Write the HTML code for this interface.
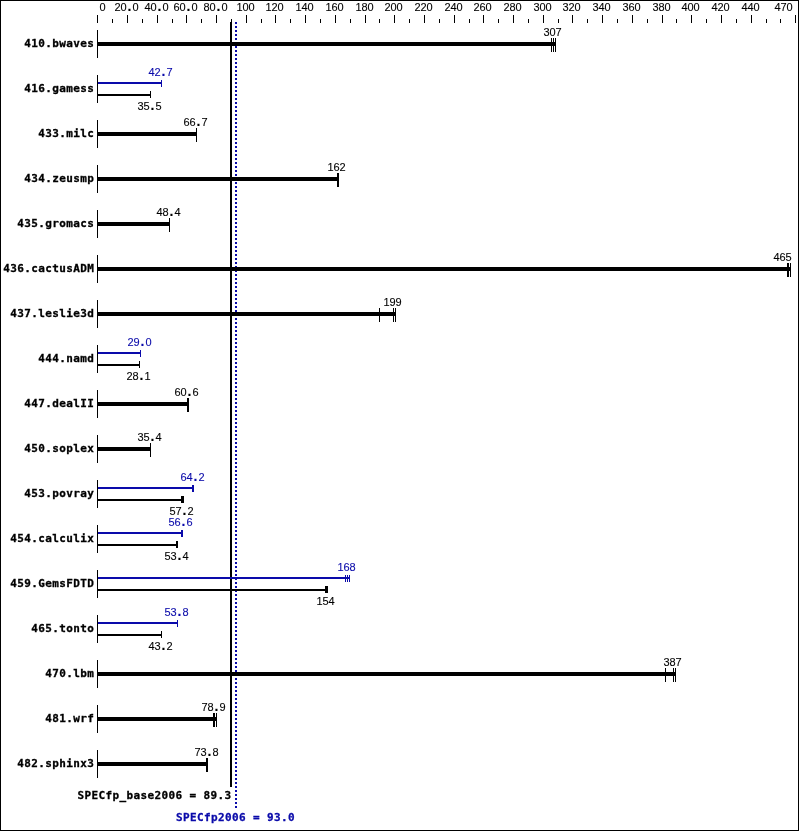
<!DOCTYPE html>
<html><head><meta charset="utf-8"><title>SPECfp2006</title>
<style>
html,body{margin:0;padding:0;background:#fff;}
svg{display:block;}
.s{font-family:"Liberation Sans","DejaVu Sans",sans-serif;font-size:11px;}
.b{font-family:"DejaVu Sans Mono","Liberation Mono",monospace;font-size:11px;font-weight:bold;letter-spacing:0.378px;}
.k{fill:#000;}
.p{fill:#0a0aaa;}
text.k{stroke:#000;}
text.p{stroke:#0a0aaa;}
.s{stroke-width:0.1;}
.b{stroke-width:0.3;}
.d{font-weight:bold;font-size:14px;}
</style></head><body>
<svg width="799" height="831" viewBox="0 0 799 831">
<rect x="0" y="0" width="799" height="831" fill="#fff"/>
<g shape-rendering="crispEdges">
<rect class="k" x="0" y="0" width="799" height="1"/><rect class="k" x="0" y="830" width="799" height="1"/><rect class="k" x="0" y="0" width="1" height="831"/><rect class="k" x="798" y="0" width="1" height="831"/>
<rect class="k" x="97" y="15" width="1" height="8"/>
<rect class="k" x="112" y="19" width="1" height="4"/>
<rect class="k" x="127" y="15" width="1" height="8"/>
<rect class="k" x="142" y="19" width="1" height="4"/>
<rect class="k" x="157" y="15" width="1" height="8"/>
<rect class="k" x="172" y="19" width="1" height="4"/>
<rect class="k" x="186" y="15" width="1" height="8"/>
<rect class="k" x="201" y="19" width="1" height="4"/>
<rect class="k" x="216" y="15" width="1" height="8"/>
<rect class="k" x="231" y="19" width="1" height="4"/>
<rect class="k" x="246" y="15" width="1" height="8"/>
<rect class="k" x="261" y="19" width="1" height="4"/>
<rect class="k" x="275" y="15" width="1" height="8"/>
<rect class="k" x="290" y="19" width="1" height="4"/>
<rect class="k" x="305" y="15" width="1" height="8"/>
<rect class="k" x="320" y="19" width="1" height="4"/>
<rect class="k" x="335" y="15" width="1" height="8"/>
<rect class="k" x="350" y="19" width="1" height="4"/>
<rect class="k" x="365" y="15" width="1" height="8"/>
<rect class="k" x="379" y="19" width="1" height="4"/>
<rect class="k" x="394" y="15" width="1" height="8"/>
<rect class="k" x="409" y="19" width="1" height="4"/>
<rect class="k" x="424" y="15" width="1" height="8"/>
<rect class="k" x="439" y="19" width="1" height="4"/>
<rect class="k" x="454" y="15" width="1" height="8"/>
<rect class="k" x="469" y="19" width="1" height="4"/>
<rect class="k" x="483" y="15" width="1" height="8"/>
<rect class="k" x="498" y="19" width="1" height="4"/>
<rect class="k" x="513" y="15" width="1" height="8"/>
<rect class="k" x="528" y="19" width="1" height="4"/>
<rect class="k" x="543" y="15" width="1" height="8"/>
<rect class="k" x="558" y="19" width="1" height="4"/>
<rect class="k" x="572" y="15" width="1" height="8"/>
<rect class="k" x="587" y="19" width="1" height="4"/>
<rect class="k" x="602" y="15" width="1" height="8"/>
<rect class="k" x="617" y="19" width="1" height="4"/>
<rect class="k" x="632" y="15" width="1" height="8"/>
<rect class="k" x="647" y="19" width="1" height="4"/>
<rect class="k" x="662" y="15" width="1" height="8"/>
<rect class="k" x="676" y="19" width="1" height="4"/>
<rect class="k" x="691" y="15" width="1" height="8"/>
<rect class="k" x="706" y="19" width="1" height="4"/>
<rect class="k" x="721" y="15" width="1" height="8"/>
<rect class="k" x="736" y="19" width="1" height="4"/>
<rect class="k" x="751" y="15" width="1" height="8"/>
<rect class="k" x="766" y="19" width="1" height="4"/>
<rect class="k" x="780" y="19" width="1" height="4"/>
<rect class="k" x="795" y="15" width="1" height="8"/>
<rect class="k" x="230" y="22" width="2" height="765"/>
<rect class="p" x="235" y="22" width="2" height="2"/>
<rect class="p" x="235" y="26" width="2" height="2"/>
<rect class="p" x="235" y="30" width="2" height="2"/>
<rect class="p" x="235" y="34" width="2" height="2"/>
<rect class="p" x="235" y="38" width="2" height="2"/>
<rect class="p" x="235" y="42" width="2" height="2"/>
<rect class="p" x="235" y="46" width="2" height="2"/>
<rect class="p" x="235" y="50" width="2" height="2"/>
<rect class="p" x="235" y="54" width="2" height="2"/>
<rect class="p" x="235" y="58" width="2" height="2"/>
<rect class="p" x="235" y="62" width="2" height="2"/>
<rect class="p" x="235" y="66" width="2" height="2"/>
<rect class="p" x="235" y="70" width="2" height="2"/>
<rect class="p" x="235" y="74" width="2" height="2"/>
<rect class="p" x="235" y="78" width="2" height="2"/>
<rect class="p" x="235" y="82" width="2" height="2"/>
<rect class="p" x="235" y="86" width="2" height="2"/>
<rect class="p" x="235" y="90" width="2" height="2"/>
<rect class="p" x="235" y="94" width="2" height="2"/>
<rect class="p" x="235" y="98" width="2" height="2"/>
<rect class="p" x="235" y="102" width="2" height="2"/>
<rect class="p" x="235" y="106" width="2" height="2"/>
<rect class="p" x="235" y="110" width="2" height="2"/>
<rect class="p" x="235" y="114" width="2" height="2"/>
<rect class="p" x="235" y="118" width="2" height="2"/>
<rect class="p" x="235" y="122" width="2" height="2"/>
<rect class="p" x="235" y="126" width="2" height="2"/>
<rect class="p" x="235" y="130" width="2" height="2"/>
<rect class="p" x="235" y="134" width="2" height="2"/>
<rect class="p" x="235" y="138" width="2" height="2"/>
<rect class="p" x="235" y="142" width="2" height="2"/>
<rect class="p" x="235" y="146" width="2" height="2"/>
<rect class="p" x="235" y="150" width="2" height="2"/>
<rect class="p" x="235" y="154" width="2" height="2"/>
<rect class="p" x="235" y="158" width="2" height="2"/>
<rect class="p" x="235" y="162" width="2" height="2"/>
<rect class="p" x="235" y="166" width="2" height="2"/>
<rect class="p" x="235" y="170" width="2" height="2"/>
<rect class="p" x="235" y="174" width="2" height="2"/>
<rect class="p" x="235" y="178" width="2" height="2"/>
<rect class="p" x="235" y="182" width="2" height="2"/>
<rect class="p" x="235" y="186" width="2" height="2"/>
<rect class="p" x="235" y="190" width="2" height="2"/>
<rect class="p" x="235" y="194" width="2" height="2"/>
<rect class="p" x="235" y="198" width="2" height="2"/>
<rect class="p" x="235" y="202" width="2" height="2"/>
<rect class="p" x="235" y="206" width="2" height="2"/>
<rect class="p" x="235" y="210" width="2" height="2"/>
<rect class="p" x="235" y="214" width="2" height="2"/>
<rect class="p" x="235" y="218" width="2" height="2"/>
<rect class="p" x="235" y="222" width="2" height="2"/>
<rect class="p" x="235" y="226" width="2" height="2"/>
<rect class="p" x="235" y="230" width="2" height="2"/>
<rect class="p" x="235" y="234" width="2" height="2"/>
<rect class="p" x="235" y="238" width="2" height="2"/>
<rect class="p" x="235" y="242" width="2" height="2"/>
<rect class="p" x="235" y="246" width="2" height="2"/>
<rect class="p" x="235" y="250" width="2" height="2"/>
<rect class="p" x="235" y="254" width="2" height="2"/>
<rect class="p" x="235" y="258" width="2" height="2"/>
<rect class="p" x="235" y="262" width="2" height="2"/>
<rect class="p" x="235" y="266" width="2" height="2"/>
<rect class="p" x="235" y="270" width="2" height="2"/>
<rect class="p" x="235" y="274" width="2" height="2"/>
<rect class="p" x="235" y="278" width="2" height="2"/>
<rect class="p" x="235" y="282" width="2" height="2"/>
<rect class="p" x="235" y="286" width="2" height="2"/>
<rect class="p" x="235" y="290" width="2" height="2"/>
<rect class="p" x="235" y="294" width="2" height="2"/>
<rect class="p" x="235" y="298" width="2" height="2"/>
<rect class="p" x="235" y="302" width="2" height="2"/>
<rect class="p" x="235" y="306" width="2" height="2"/>
<rect class="p" x="235" y="310" width="2" height="2"/>
<rect class="p" x="235" y="314" width="2" height="2"/>
<rect class="p" x="235" y="318" width="2" height="2"/>
<rect class="p" x="235" y="322" width="2" height="2"/>
<rect class="p" x="235" y="326" width="2" height="2"/>
<rect class="p" x="235" y="330" width="2" height="2"/>
<rect class="p" x="235" y="334" width="2" height="2"/>
<rect class="p" x="235" y="338" width="2" height="2"/>
<rect class="p" x="235" y="342" width="2" height="2"/>
<rect class="p" x="235" y="346" width="2" height="2"/>
<rect class="p" x="235" y="350" width="2" height="2"/>
<rect class="p" x="235" y="354" width="2" height="2"/>
<rect class="p" x="235" y="358" width="2" height="2"/>
<rect class="p" x="235" y="362" width="2" height="2"/>
<rect class="p" x="235" y="366" width="2" height="2"/>
<rect class="p" x="235" y="370" width="2" height="2"/>
<rect class="p" x="235" y="374" width="2" height="2"/>
<rect class="p" x="235" y="378" width="2" height="2"/>
<rect class="p" x="235" y="382" width="2" height="2"/>
<rect class="p" x="235" y="386" width="2" height="2"/>
<rect class="p" x="235" y="390" width="2" height="2"/>
<rect class="p" x="235" y="394" width="2" height="2"/>
<rect class="p" x="235" y="398" width="2" height="2"/>
<rect class="p" x="235" y="402" width="2" height="2"/>
<rect class="p" x="235" y="406" width="2" height="2"/>
<rect class="p" x="235" y="410" width="2" height="2"/>
<rect class="p" x="235" y="414" width="2" height="2"/>
<rect class="p" x="235" y="418" width="2" height="2"/>
<rect class="p" x="235" y="422" width="2" height="2"/>
<rect class="p" x="235" y="426" width="2" height="2"/>
<rect class="p" x="235" y="430" width="2" height="2"/>
<rect class="p" x="235" y="434" width="2" height="2"/>
<rect class="p" x="235" y="438" width="2" height="2"/>
<rect class="p" x="235" y="442" width="2" height="2"/>
<rect class="p" x="235" y="446" width="2" height="2"/>
<rect class="p" x="235" y="450" width="2" height="2"/>
<rect class="p" x="235" y="454" width="2" height="2"/>
<rect class="p" x="235" y="458" width="2" height="2"/>
<rect class="p" x="235" y="462" width="2" height="2"/>
<rect class="p" x="235" y="466" width="2" height="2"/>
<rect class="p" x="235" y="470" width="2" height="2"/>
<rect class="p" x="235" y="474" width="2" height="2"/>
<rect class="p" x="235" y="478" width="2" height="2"/>
<rect class="p" x="235" y="482" width="2" height="2"/>
<rect class="p" x="235" y="486" width="2" height="2"/>
<rect class="p" x="235" y="490" width="2" height="2"/>
<rect class="p" x="235" y="494" width="2" height="2"/>
<rect class="p" x="235" y="498" width="2" height="2"/>
<rect class="p" x="235" y="502" width="2" height="2"/>
<rect class="p" x="235" y="506" width="2" height="2"/>
<rect class="p" x="235" y="510" width="2" height="2"/>
<rect class="p" x="235" y="514" width="2" height="2"/>
<rect class="p" x="235" y="518" width="2" height="2"/>
<rect class="p" x="235" y="522" width="2" height="2"/>
<rect class="p" x="235" y="526" width="2" height="2"/>
<rect class="p" x="235" y="530" width="2" height="2"/>
<rect class="p" x="235" y="534" width="2" height="2"/>
<rect class="p" x="235" y="538" width="2" height="2"/>
<rect class="p" x="235" y="542" width="2" height="2"/>
<rect class="p" x="235" y="546" width="2" height="2"/>
<rect class="p" x="235" y="550" width="2" height="2"/>
<rect class="p" x="235" y="554" width="2" height="2"/>
<rect class="p" x="235" y="558" width="2" height="2"/>
<rect class="p" x="235" y="562" width="2" height="2"/>
<rect class="p" x="235" y="566" width="2" height="2"/>
<rect class="p" x="235" y="570" width="2" height="2"/>
<rect class="p" x="235" y="574" width="2" height="2"/>
<rect class="p" x="235" y="578" width="2" height="2"/>
<rect class="p" x="235" y="582" width="2" height="2"/>
<rect class="p" x="235" y="586" width="2" height="2"/>
<rect class="p" x="235" y="590" width="2" height="2"/>
<rect class="p" x="235" y="594" width="2" height="2"/>
<rect class="p" x="235" y="598" width="2" height="2"/>
<rect class="p" x="235" y="602" width="2" height="2"/>
<rect class="p" x="235" y="606" width="2" height="2"/>
<rect class="p" x="235" y="610" width="2" height="2"/>
<rect class="p" x="235" y="614" width="2" height="2"/>
<rect class="p" x="235" y="618" width="2" height="2"/>
<rect class="p" x="235" y="622" width="2" height="2"/>
<rect class="p" x="235" y="626" width="2" height="2"/>
<rect class="p" x="235" y="630" width="2" height="2"/>
<rect class="p" x="235" y="634" width="2" height="2"/>
<rect class="p" x="235" y="638" width="2" height="2"/>
<rect class="p" x="235" y="642" width="2" height="2"/>
<rect class="p" x="235" y="646" width="2" height="2"/>
<rect class="p" x="235" y="650" width="2" height="2"/>
<rect class="p" x="235" y="654" width="2" height="2"/>
<rect class="p" x="235" y="658" width="2" height="2"/>
<rect class="p" x="235" y="662" width="2" height="2"/>
<rect class="p" x="235" y="666" width="2" height="2"/>
<rect class="p" x="235" y="670" width="2" height="2"/>
<rect class="p" x="235" y="674" width="2" height="2"/>
<rect class="p" x="235" y="678" width="2" height="2"/>
<rect class="p" x="235" y="682" width="2" height="2"/>
<rect class="p" x="235" y="686" width="2" height="2"/>
<rect class="p" x="235" y="690" width="2" height="2"/>
<rect class="p" x="235" y="694" width="2" height="2"/>
<rect class="p" x="235" y="698" width="2" height="2"/>
<rect class="p" x="235" y="702" width="2" height="2"/>
<rect class="p" x="235" y="706" width="2" height="2"/>
<rect class="p" x="235" y="710" width="2" height="2"/>
<rect class="p" x="235" y="714" width="2" height="2"/>
<rect class="p" x="235" y="718" width="2" height="2"/>
<rect class="p" x="235" y="722" width="2" height="2"/>
<rect class="p" x="235" y="726" width="2" height="2"/>
<rect class="p" x="235" y="730" width="2" height="2"/>
<rect class="p" x="235" y="734" width="2" height="2"/>
<rect class="p" x="235" y="738" width="2" height="2"/>
<rect class="p" x="235" y="742" width="2" height="2"/>
<rect class="p" x="235" y="746" width="2" height="2"/>
<rect class="p" x="235" y="750" width="2" height="2"/>
<rect class="p" x="235" y="754" width="2" height="2"/>
<rect class="p" x="235" y="758" width="2" height="2"/>
<rect class="p" x="235" y="762" width="2" height="2"/>
<rect class="p" x="235" y="766" width="2" height="2"/>
<rect class="p" x="235" y="770" width="2" height="2"/>
<rect class="p" x="235" y="774" width="2" height="2"/>
<rect class="p" x="235" y="778" width="2" height="2"/>
<rect class="p" x="235" y="782" width="2" height="2"/>
<rect class="p" x="235" y="786" width="2" height="2"/>
<rect class="p" x="235" y="790" width="2" height="2"/>
<rect class="p" x="235" y="794" width="2" height="2"/>
<rect class="p" x="235" y="798" width="2" height="2"/>
<rect class="p" x="235" y="802" width="2" height="2"/>
<rect class="p" x="235" y="806" width="2" height="2"/>
<rect class="k" x="97" y="30" width="1" height="28"/>
<rect class="k" x="98" y="42" width="458" height="4"/>
<rect class="k" x="551" y="38" width="1" height="14"/>
<rect class="k" x="553" y="38" width="1" height="14"/>
<rect class="k" x="555" y="38" width="1" height="14"/>
<rect class="k" x="97" y="75" width="1" height="28"/>
<rect class="p" x="98" y="82" width="64" height="2"/>
<rect class="p" x="161" y="80" width="1" height="7"/>
<rect class="k" x="98" y="94" width="53" height="2"/>
<rect class="k" x="150" y="91" width="1" height="7"/>
<rect class="k" x="97" y="120" width="1" height="28"/>
<rect class="k" x="98" y="132" width="99" height="4"/>
<rect class="k" x="196" y="128" width="1" height="14"/>
<rect class="k" x="97" y="165" width="1" height="28"/>
<rect class="k" x="98" y="177" width="241" height="4"/>
<rect class="k" x="337" y="173" width="1" height="14"/>
<rect class="k" x="338" y="173" width="1" height="14"/>
<rect class="k" x="97" y="210" width="1" height="28"/>
<rect class="k" x="98" y="222" width="72" height="4"/>
<rect class="k" x="169" y="218" width="1" height="14"/>
<rect class="k" x="97" y="255" width="1" height="28"/>
<rect class="k" x="98" y="267" width="693" height="4"/>
<rect class="k" x="787" y="263" width="1" height="14"/>
<rect class="k" x="788" y="263" width="1" height="14"/>
<rect class="k" x="790" y="263" width="1" height="14"/>
<rect class="k" x="97" y="300" width="1" height="28"/>
<rect class="k" x="98" y="312" width="298" height="4"/>
<rect class="k" x="379" y="308" width="1" height="14"/>
<rect class="k" x="393" y="308" width="1" height="14"/>
<rect class="k" x="395" y="308" width="1" height="14"/>
<rect class="k" x="97" y="345" width="1" height="28"/>
<rect class="p" x="98" y="352" width="43" height="2"/>
<rect class="p" x="140" y="350" width="1" height="7"/>
<rect class="k" x="98" y="364" width="42" height="2"/>
<rect class="k" x="139" y="361" width="1" height="7"/>
<rect class="k" x="97" y="390" width="1" height="28"/>
<rect class="k" x="98" y="402" width="91" height="4"/>
<rect class="k" x="187" y="398" width="1" height="14"/>
<rect class="k" x="188" y="398" width="1" height="14"/>
<rect class="k" x="97" y="435" width="1" height="28"/>
<rect class="k" x="98" y="447" width="53" height="4"/>
<rect class="k" x="150" y="443" width="1" height="14"/>
<rect class="k" x="97" y="480" width="1" height="28"/>
<rect class="p" x="98" y="487" width="96" height="2"/>
<rect class="p" x="192" y="485" width="1" height="7"/>
<rect class="p" x="193" y="485" width="1" height="7"/>
<rect class="k" x="98" y="499" width="86" height="2"/>
<rect class="k" x="181" y="496" width="1" height="7"/>
<rect class="k" x="182" y="496" width="1" height="7"/>
<rect class="k" x="183" y="496" width="1" height="7"/>
<rect class="k" x="97" y="525" width="1" height="28"/>
<rect class="p" x="98" y="532" width="85" height="2"/>
<rect class="p" x="181" y="530" width="1" height="7"/>
<rect class="p" x="182" y="530" width="1" height="7"/>
<rect class="k" x="98" y="544" width="80" height="2"/>
<rect class="k" x="176" y="541" width="1" height="7"/>
<rect class="k" x="177" y="541" width="1" height="7"/>
<rect class="k" x="97" y="570" width="1" height="28"/>
<rect class="p" x="98" y="577" width="252" height="2"/>
<rect class="p" x="345" y="575" width="1" height="7"/>
<rect class="p" x="347" y="575" width="1" height="7"/>
<rect class="p" x="349" y="575" width="1" height="7"/>
<rect class="k" x="98" y="589" width="230" height="2"/>
<rect class="k" x="325" y="586" width="1" height="7"/>
<rect class="k" x="326" y="586" width="1" height="7"/>
<rect class="k" x="327" y="586" width="1" height="7"/>
<rect class="k" x="97" y="615" width="1" height="28"/>
<rect class="p" x="98" y="622" width="80" height="2"/>
<rect class="p" x="177" y="620" width="1" height="7"/>
<rect class="k" x="98" y="634" width="64" height="2"/>
<rect class="k" x="161" y="631" width="1" height="7"/>
<rect class="k" x="97" y="660" width="1" height="28"/>
<rect class="k" x="98" y="672" width="578" height="4"/>
<rect class="k" x="665" y="668" width="1" height="14"/>
<rect class="k" x="673" y="668" width="1" height="14"/>
<rect class="k" x="675" y="668" width="1" height="14"/>
<rect class="k" x="97" y="705" width="1" height="28"/>
<rect class="k" x="98" y="717" width="119" height="4"/>
<rect class="k" x="213" y="713" width="1" height="14"/>
<rect class="k" x="214" y="713" width="1" height="14"/>
<rect class="k" x="216" y="713" width="1" height="14"/>
<rect class="k" x="97" y="750" width="1" height="28"/>
<rect class="k" x="98" y="762" width="110" height="4"/>
<rect class="k" x="206" y="758" width="1" height="14"/>
<rect class="k" x="207" y="758" width="1" height="14"/>
</g>
<text class="s k" text-anchor="middle" x="102.5" y="11">0</text>
<text class="s k" text-anchor="middle" x="117.5 123.5 129.5 135.5" y="11">20<tspan class="d">.</tspan>0</text>
<text class="s k" text-anchor="middle" x="147.5 153.5 159.5 165.5" y="11">40<tspan class="d">.</tspan>0</text>
<text class="s k" text-anchor="middle" x="176.5 182.5 188.5 194.5" y="11">60<tspan class="d">.</tspan>0</text>
<text class="s k" text-anchor="middle" x="206.5 212.5 218.5 224.5" y="11">80<tspan class="d">.</tspan>0</text>
<text class="s k" text-anchor="middle" x="239.5 245.5 251.5" y="11">100</text>
<text class="s k" text-anchor="middle" x="268.5 274.5 280.5" y="11">120</text>
<text class="s k" text-anchor="middle" x="298.5 304.5 310.5" y="11">140</text>
<text class="s k" text-anchor="middle" x="328.5 334.5 340.5" y="11">160</text>
<text class="s k" text-anchor="middle" x="358.5 364.5 370.5" y="11">180</text>
<text class="s k" text-anchor="middle" x="387.5 393.5 399.5" y="11">200</text>
<text class="s k" text-anchor="middle" x="417.5 423.5 429.5" y="11">220</text>
<text class="s k" text-anchor="middle" x="447.5 453.5 459.5" y="11">240</text>
<text class="s k" text-anchor="middle" x="476.5 482.5 488.5" y="11">260</text>
<text class="s k" text-anchor="middle" x="506.5 512.5 518.5" y="11">280</text>
<text class="s k" text-anchor="middle" x="536.5 542.5 548.5" y="11">300</text>
<text class="s k" text-anchor="middle" x="565.5 571.5 577.5" y="11">320</text>
<text class="s k" text-anchor="middle" x="595.5 601.5 607.5" y="11">340</text>
<text class="s k" text-anchor="middle" x="625.5 631.5 637.5" y="11">360</text>
<text class="s k" text-anchor="middle" x="655.5 661.5 667.5" y="11">380</text>
<text class="s k" text-anchor="middle" x="684.5 690.5 696.5" y="11">400</text>
<text class="s k" text-anchor="middle" x="714.5 720.5 726.5" y="11">420</text>
<text class="s k" text-anchor="middle" x="744.5 750.5 756.5" y="11">440</text>
<text class="s k" text-anchor="middle" x="777.5 783.5 789.5" y="11">470</text>
<text class="b k" text-anchor="end" x="94.2" y="47">410.bwaves</text>
<text class="s k" text-anchor="middle" x="546.5 552.5 558.5" y="36">307</text>
<text class="b k" text-anchor="end" x="94.2" y="92">416.gamess</text>
<text class="s p" text-anchor="middle" x="151.5 157.5 163.5 169.5" y="76">42<tspan class="d">.</tspan>7</text>
<text class="s k" text-anchor="middle" x="140.5 146.5 152.5 158.5" y="110">35<tspan class="d">.</tspan>5</text>
<text class="b k" text-anchor="end" x="94.2" y="137">433.milc</text>
<text class="s k" text-anchor="middle" x="186.5 192.5 198.5 204.5" y="126">66<tspan class="d">.</tspan>7</text>
<text class="b k" text-anchor="end" x="94.2" y="182">434.zeusmp</text>
<text class="s k" text-anchor="middle" x="330.5 336.5 342.5" y="171">162</text>
<text class="b k" text-anchor="end" x="94.2" y="227">435.gromacs</text>
<text class="s k" text-anchor="middle" x="159.5 165.5 171.5 177.5" y="216">48<tspan class="d">.</tspan>4</text>
<text class="b k" text-anchor="end" x="94.2" y="272">436.cactusADM</text>
<text class="s k" text-anchor="middle" x="776.5 782.5 788.5" y="261">465</text>
<text class="b k" text-anchor="end" x="94.2" y="317">437.leslie3d</text>
<text class="s k" text-anchor="middle" x="386.5 392.5 398.5" y="306">199</text>
<text class="b k" text-anchor="end" x="94.2" y="362">444.namd</text>
<text class="s p" text-anchor="middle" x="130.5 136.5 142.5 148.5" y="346">29<tspan class="d">.</tspan>0</text>
<text class="s k" text-anchor="middle" x="129.5 135.5 141.5 147.5" y="380">28<tspan class="d">.</tspan>1</text>
<text class="b k" text-anchor="end" x="94.2" y="407">447.dealII</text>
<text class="s k" text-anchor="middle" x="177.5 183.5 189.5 195.5" y="396">60<tspan class="d">.</tspan>6</text>
<text class="b k" text-anchor="end" x="94.2" y="452">450.soplex</text>
<text class="s k" text-anchor="middle" x="140.5 146.5 152.5 158.5" y="441">35<tspan class="d">.</tspan>4</text>
<text class="b k" text-anchor="end" x="94.2" y="497">453.povray</text>
<text class="s p" text-anchor="middle" x="183.5 189.5 195.5 201.5" y="481">64<tspan class="d">.</tspan>2</text>
<text class="s k" text-anchor="middle" x="172.5 178.5 184.5 190.5" y="515">57<tspan class="d">.</tspan>2</text>
<text class="b k" text-anchor="end" x="94.2" y="542">454.calculix</text>
<text class="s p" text-anchor="middle" x="171.5 177.5 183.5 189.5" y="526">56<tspan class="d">.</tspan>6</text>
<text class="s k" text-anchor="middle" x="167.5 173.5 179.5 185.5" y="560">53<tspan class="d">.</tspan>4</text>
<text class="b k" text-anchor="end" x="94.2" y="587">459.GemsFDTD</text>
<text class="s p" text-anchor="middle" x="340.5 346.5 352.5" y="571">168</text>
<text class="s k" text-anchor="middle" x="319.5 325.5 331.5" y="605">154</text>
<text class="b k" text-anchor="end" x="94.2" y="632">465.tonto</text>
<text class="s p" text-anchor="middle" x="167.5 173.5 179.5 185.5" y="616">53<tspan class="d">.</tspan>8</text>
<text class="s k" text-anchor="middle" x="151.5 157.5 163.5 169.5" y="650">43<tspan class="d">.</tspan>2</text>
<text class="b k" text-anchor="end" x="94.2" y="677">470.lbm</text>
<text class="s k" text-anchor="middle" x="666.5 672.5 678.5" y="666">387</text>
<text class="b k" text-anchor="end" x="94.2" y="722">481.wrf</text>
<text class="s k" text-anchor="middle" x="204.5 210.5 216.5 222.5" y="711">78<tspan class="d">.</tspan>9</text>
<text class="b k" text-anchor="end" x="94.2" y="767">482.sphinx3</text>
<text class="s k" text-anchor="middle" x="197.5 203.5 209.5 215.5" y="756">73<tspan class="d">.</tspan>8</text>
<text class="b k" text-anchor="end" x="231.5" y="799">SPECfp_base2006 = 89.3</text>
<text class="b p" text-anchor="start" x="176" y="821">SPECfp2006 = 93.0</text>
</svg></body></html>
